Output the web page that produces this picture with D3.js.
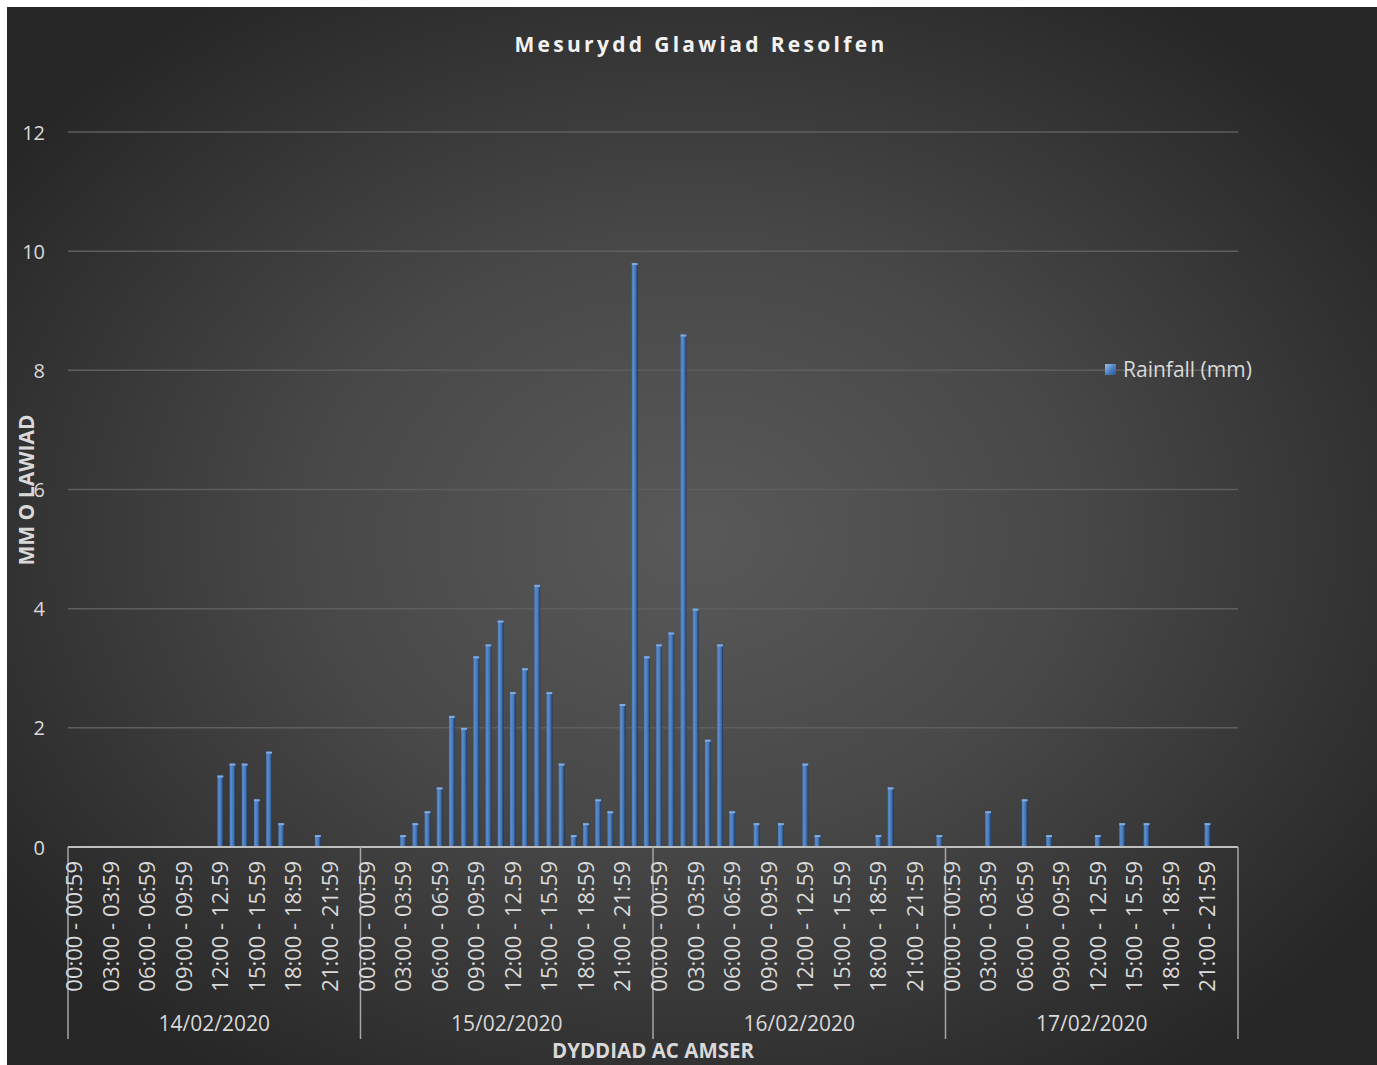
<!DOCTYPE html>
<html>
<head>
<meta charset="utf-8">
<script src="https://cdn.jsdelivr.net/npm/d3@7"></script>
<style>
  html, body { margin: 0; padding: 0; background: #ffffff; }
  svg { display: block; }
  text { font-family: "Open Sans", "Noto Sans", sans-serif; }
</style>
</head>
<body>
<svg id="chart" width="1377" height="1065"></svg>
<script>
// ---- data ----
const title = "Mesurydd Glawiad Resolfen";
const seriesName = "Rainfall (mm)";
const days = ["14/02/2020", "15/02/2020", "16/02/2020", "17/02/2020"];
const hourLabels = [
  "00:00 - 00:59", "01:00 - 01:59", "02:00 - 02:59", "03:00 - 03:59",
  "04:00 - 04:59", "05:00 - 05:59", "06:00 - 06:59", "07:00 - 07:59",
  "08:00 - 08:59", "09:00 - 09:59", "10:00 - 10:59", "11:00 - 11:59",
  "12:00 - 12.59", "13:00 - 13.59", "14:00 - 14.59", "15:00 - 15.59",
  "16:00 - 16:59", "17:00 - 17:59", "18:00 - 18:59", "19:00 - 19:59",
  "20:00 - 20:59", "21:00 - 21:59", "22:00 - 22:59", "23:00 - 23:59"
];
const rain14 = [0,0,0,0,0,0,0,0,0,0,0,0,1.2,1.4,1.4,0.8,1.6,0.4,0,0,0.2,0,0,0];
const rain15 = [0,0,0,0.2,0.4,0.6,1.0,2.2,2.0,3.2,3.4,3.8,2.6,3.0,4.4,2.6,1.4,0.2,0.4,0.8,0.6,2.4,9.8,3.2];
const rain16 = [3.4,3.6,8.6,4.0,1.8,3.4,0.6,0,0.4,0,0.4,0,1.4,0.2,0,0,0,0,0.2,1.0,0,0,0,0.2];
const rain17 = [0,0,0,0.6,0,0,0.8,0,0.2,0,0,0,0.2,0,0.4,0,0.4,0,0,0,0,0.4,0,0];
const yTicks = [0, 2, 4, 6, 8, 10, 12];
const yTitle = "MM O LAWIAD";
const xTitle = "DYDDIAD AC AMSER";

// ---- build table ----
const rainByDay = [rain14, rain15, rain16, rain17];
const rows = [];
days.forEach((d, di) => {
  hourLabels.forEach((h, hi) => {
    rows.push({ key: d + "|" + hi, day: d, hour: hi, label: h, value: rainByDay[di][hi] });
  });
});

// ---- layout ----
const svg = d3.select("#chart");
const W = 1377, H = 1065;
const plot = { left: 68, right: 1238, top: 132, bottom: 847 };

const defs = svg.append("defs");
const bg = defs.append("radialGradient").attr("id", "bg")
  .attr("cx", "50%").attr("cy", "50%").attr("r", "62%");
bg.append("stop").attr("offset", "0%").attr("stop-color", "#595959");
bg.append("stop").attr("offset", "45%").attr("stop-color", "#484848");
bg.append("stop").attr("offset", "100%").attr("stop-color", "#262626");

const barGrad = defs.append("linearGradient").attr("id", "barGrad")
  .attr("x1", "0%").attr("x2", "100%").attr("y1", "0%").attr("y2", "0%");
barGrad.append("stop").attr("offset", "0%").attr("stop-color", "#4a79b6");
barGrad.append("stop").attr("offset", "30%").attr("stop-color", "#5b8dcc");
barGrad.append("stop").attr("offset", "70%").attr("stop-color", "#3d6dac");
barGrad.append("stop").attr("offset", "100%").attr("stop-color", "#1d365a");

const legGrad = defs.append("linearGradient").attr("id", "legGrad")
  .attr("x1", "0%").attr("x2", "100%").attr("y1", "0%").attr("y2", "100%");
legGrad.append("stop").attr("offset", "0%").attr("stop-color", "#9cc2f0");
legGrad.append("stop").attr("offset", "55%").attr("stop-color", "#4a7fc1");
legGrad.append("stop").attr("offset", "100%").attr("stop-color", "#2b5590");

svg.append("rect").attr("x", 7).attr("y", 7).attr("width", W - 7).attr("height", H - 7)
  .attr("fill", "url(#bg)");

// scales
const x = d3.scaleBand().domain(rows.map(r => r.key))
  .range([plot.left, plot.right]).paddingInner(0.52).paddingOuter(0.26);
const y = d3.scaleLinear().domain([0, 12]).range([plot.bottom, plot.top]);

// gridlines
svg.append("g").selectAll("line").data(yTicks.filter(t => t > 0)).join("line")
  .attr("x1", plot.left).attr("x2", plot.right)
  .attr("y1", d => y(d)).attr("y2", d => y(d))
  .attr("stroke", "#5e5e5e").attr("stroke-width", 1.5);

// y axis labels
const yAxis = d3.axisLeft(y).tickValues(yTicks).tickSize(0).tickPadding(0);
const yg = svg.append("g").attr("transform", `translate(${45},0)`).call(yAxis);
yg.select(".domain").remove();
yg.selectAll("text").attr("fill", "#d9d9d9").style("font-size", "20px")
  .style("font-family", "'Open Sans', sans-serif").attr("dy", "0.35em");

// bars
const bars = svg.append("g");
bars.selectAll("rect.bar").data(rows.filter(r => r.value > 0)).join("rect")
  .attr("class", "bar")
  .attr("x", d => x(d.key)).attr("width", x.bandwidth())
  .attr("y", d => y(d.value)).attr("height", d => y(0) - y(d.value))
  .attr("fill", "url(#barGrad)");
bars.selectAll("rect.cap").data(rows.filter(r => r.value > 0)).join("rect")
  .attr("class", "cap")
  .attr("x", d => x(d.key)).attr("width", x.bandwidth())
  .attr("y", d => y(d.value)).attr("height", 2)
  .attr("fill", "#80aae2");

// x axis baseline
svg.append("line").attr("x1", plot.left).attr("x2", plot.right)
  .attr("y1", plot.bottom).attr("y2", plot.bottom)
  .attr("stroke", "#bfbfbf").attr("stroke-width", 2);

// day separators
const dayScale = d3.scaleBand().domain(days).range([plot.left, plot.right]);
const seps = [plot.left].concat(days.map(d => dayScale(d) + dayScale.bandwidth()));
svg.append("g").selectAll("line").data(seps).join("line")
  .attr("x1", d => d).attr("x2", d => d)
  .attr("y1", plot.bottom).attr("y2", 1039)
  .attr("stroke", "#a6a6a6").attr("stroke-width", 1.5);

// hour labels (every 3rd)
svg.append("g").selectAll("text").data(rows.filter(r => r.hour % 3 === 0)).join("text")
  .attr("transform", d => `translate(${x(d.key) + x.bandwidth() / 2},${861}) rotate(-90)`)
  .attr("text-anchor", "end").attr("dy", "0.36em")
  .attr("fill", "#d9d9d9").style("font-size", "22px")
  .text(d => d.label);

// day labels
svg.append("g").selectAll("text").data(days).join("text")
  .attr("x", d => dayScale(d) + dayScale.bandwidth() / 2).attr("y", 1024)
  .attr("text-anchor", "middle").attr("dy", "0.35em")
  .attr("fill", "#d9d9d9").style("font-size", "21px")
  .text(d => d);

// axis titles
svg.append("text").attr("x", (plot.left + plot.right) / 2).attr("y", 1051)
  .attr("text-anchor", "middle").attr("dy", "0.35em")
  .attr("fill", "#d9d9d9").style("font-size", "20.5px").style("font-weight", "bold")
  .text(xTitle);
svg.append("text").attr("transform", `translate(27,490) rotate(-90)`)
  .attr("text-anchor", "middle").attr("dy", "0.35em")
  .attr("fill", "#d9d9d9").style("font-size", "21px").style("font-weight", "bold")
  .text(yTitle);

// title
svg.append("text").attr("x", 701).attr("y", 45)
  .attr("text-anchor", "middle").attr("dy", "0.35em")
  .attr("fill", "#f2f2f2").style("font-size", "21px").style("font-weight", "bold")
  .style("letter-spacing", "3.3px")
  .text(title);

// legend
svg.append("rect").attr("x", 1105).attr("y", 364).attr("width", 11).attr("height", 11)
  .attr("fill", "url(#legGrad)");
svg.append("text").attr("x", 1123).attr("y", 370).attr("dy", "0.35em")
  .attr("fill", "#d9d9d9").style("font-size", "21px")
  .text(seriesName);
</script>
</body>
</html>
